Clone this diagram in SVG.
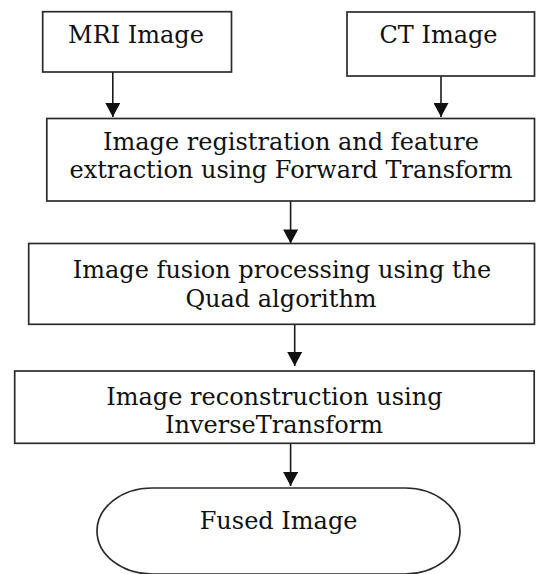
<svg xmlns="http://www.w3.org/2000/svg" width="536" height="574" viewBox="0 0 536 574">
  <style>
    .box { fill: #ffffff; stroke: #2b2b2b; stroke-width: 1.7; }
    .lbl { font-family: "DejaVu Serif", "Liberation Serif", serif; font-size: 24px; fill: #111111; text-anchor: middle; }
    .conn { stroke: #1a1a1a; stroke-width: 1.6; fill: none; marker-end: url(#arrow); }
  </style>
  <defs>
    <marker id="arrow" markerUnits="userSpaceOnUse" markerWidth="16" markerHeight="15" refX="15" refY="8" orient="auto" viewBox="0 0 15 16">
      <path d="M0,0 L15,8 L0,16 Z" fill="#111111"/>
    </marker>
  </defs>
  <rect width="536" height="574" fill="#ffffff"/>

  <g id="connectors">
    <line class="conn" x1="112.8" y1="72" x2="112.8" y2="117"/>
    <line class="conn" x1="441" y1="76" x2="441" y2="117"/>
    <line class="conn" x1="290.6" y1="201" x2="290.6" y2="243.5"/>
    <line class="conn" x1="294.7" y1="324.3" x2="294.7" y2="366"/>
    <line class="conn" x1="290.6" y1="443.3" x2="290.6" y2="486"/>
  </g>

  <g id="mri">
    <rect class="box" x="42.7" y="11.7" width="188.8" height="60.3"/>
    <text class="lbl" x="136" y="43">MRI Image</text>
  </g>
  <g id="ct">
    <rect class="box" x="347" y="12" width="187.5" height="64"/>
    <text class="lbl" x="438.5" y="43">CT Image</text>
  </g>
  <g id="registration">
    <rect class="box" x="46.8" y="118.5" width="487.7" height="82.5"/>
    <text class="lbl" x="291" y="150">Image registration and feature</text>
    <text class="lbl" x="291" y="178.3">extraction using Forward Transform</text>
  </g>
  <g id="fusion">
    <rect class="box" x="28.7" y="243.5" width="505.8" height="80.8"/>
    <text class="lbl" x="282" y="277.5">Image fusion processing using the</text>
    <text class="lbl" x="281" y="307">Quad algorithm</text>
  </g>
  <g id="reconstruction">
    <rect class="box" x="14.7" y="371" width="519.5" height="72.3"/>
    <text class="lbl" x="274.4" y="405">Image reconstruction using</text>
    <text class="lbl" x="274" y="433.3">InverseTransform</text>
  </g>
  <g id="fused">
    <rect class="box" x="97" y="488" width="363" height="86" rx="55" ry="43"/>
    <text class="lbl" x="278.6" y="529">Fused Image</text>
  </g>
</svg>
